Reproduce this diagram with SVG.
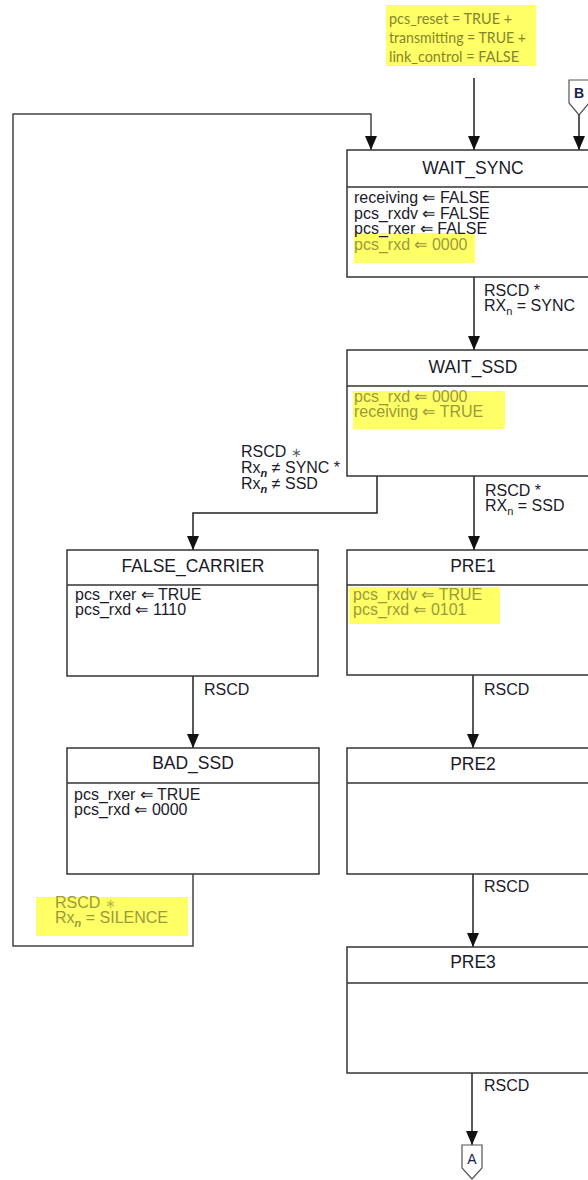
<svg xmlns="http://www.w3.org/2000/svg" width="588" height="1180" viewBox="0 0 588 1180">
<style>
.box{fill:#fff;stroke:#333;stroke-width:1.5}
.div{stroke:#333;stroke-width:1.5}
.conn{fill:none;stroke:#222;stroke-width:1.5}
.loop{fill:none;stroke:#444;stroke-width:1.5}
.title{font-family:"Liberation Sans",Arial,sans-serif;font-size:17.5px;fill:#1a1a2a;text-anchor:middle}
.body{font-family:"Liberation Sans",Arial,sans-serif;font-size:16px;fill:#1a1a2a}
.hl{font-family:"Liberation Sans",Arial,sans-serif;font-size:16px;fill:#9a9a3c}
.lbl{font-family:"Liberation Sans",Arial,sans-serif;font-size:16px;fill:#1a1a2a}
.sub{font-size:11px}
.ast{font-size:13px;opacity:0.7}
.top{font-family:Lato,"Open Sans",sans-serif;font-size:15px;fill:#85852e}
.yel{fill:#ffff66}
.pent{fill:#fff;stroke:#555;stroke-width:1.2}
.cl{font-family:"Liberation Sans",Arial,sans-serif;font-size:14px;fill:#1a2050;text-anchor:middle}
</style>
<defs>
<marker id="ah" markerUnits="userSpaceOnUse" markerWidth="14" markerHeight="12" refX="14" refY="6" orient="auto">
<path d="M0,0 L14,6 L0,12 z" fill="#111"/>
</marker>
</defs>

<!-- top condition label -->
<g id="init-cond">
<rect class="yel" x="386" y="5" width="150" height="61"/>
<text class="top" x="389" y="24" textLength="123" lengthAdjust="spacingAndGlyphs">pcs_reset = TRUE +</text>
<text class="top" x="389" y="43" textLength="137" lengthAdjust="spacingAndGlyphs">transmitting = TRUE +</text>
<text class="top" x="389" y="62" textLength="130" lengthAdjust="spacingAndGlyphs">link_control = FALSE</text>
</g>

<!-- off-page connector B -->
<g id="conn-B">
<path class="pent" d="M569,80 L589,80 L589,103 L579,115 L569,103 z"/>
<text class="cl" x="579" y="98" font-weight="bold">B</text>
</g>

<!-- connectors -->
<g id="connectors">
<path class="conn" d="M474,78 L474,150" marker-end="url(#ah)"/>
<path class="conn" d="M579,115 L579,150" marker-end="url(#ah)"/>
<path class="loop" d="M193,874 L193,946 L13,946 L13,114 L371,114 L371,150" marker-end="url(#ah)"/>
<path class="conn" d="M474,277 L474,350" marker-end="url(#ah)"/>
<path class="conn" d="M377,476 L377,513 L193,513 L193,550" marker-end="url(#ah)"/>
<path class="conn" d="M474,476 L474,550" marker-end="url(#ah)"/>
<path class="conn" d="M193,676 L193,748" marker-end="url(#ah)"/>
<path class="conn" d="M473,675 L473,748" marker-end="url(#ah)"/>
<path class="conn" d="M473,874 L473,947" marker-end="url(#ah)"/>
<path class="conn" d="M472,1073 L472,1145" marker-end="url(#ah)"/>
</g>

<!-- transition labels -->
<g id="labels">
<text class="lbl" x="484" y="296">RSCD *</text>
<text class="lbl" x="484" y="311">RX<tspan class="sub" dy="4">n</tspan><tspan dy="-4"> = SYNC</tspan></text>

<text class="lbl" x="241" y="457">RSCD <tspan class="ast">∗</tspan></text>
<text class="lbl" x="241" y="473">Rx<tspan class="sub" dy="4" font-style="italic" font-weight="bold">n</tspan><tspan dy="-4"> ≠ SYNC *</tspan></text>
<text class="lbl" x="241" y="489">Rx<tspan class="sub" dy="4" font-style="italic" font-weight="bold">n</tspan><tspan dy="-4"> ≠ SSD</tspan></text>

<text class="lbl" x="485" y="496">RSCD *</text>
<text class="lbl" x="485" y="511">RX<tspan class="sub" dy="4">n</tspan><tspan dy="-4"> = SSD</tspan></text>

<text class="lbl" x="204" y="695">RSCD</text>
<text class="lbl" x="484" y="695">RSCD</text>
<text class="lbl" x="484" y="892">RSCD</text>
<text class="lbl" x="484" y="1091">RSCD</text>

<rect class="yel" x="36" y="897" width="152" height="39"/>
<text class="hl" x="55" y="908">RSCD <tspan class="ast">∗</tspan></text>
<text class="hl" x="55" y="923">Rx<tspan class="sub" dy="4" font-style="italic" font-weight="bold">n</tspan><tspan dy="-4"> = SILENCE</tspan></text>
</g>

<!-- states -->
<g id="WAIT_SYNC">
<rect class="box" x="347" y="150" width="260" height="127"/>
<line class="div" x1="347" y1="187" x2="607" y2="187"/>
<text class="title" x="473" y="174">WAIT_SYNC</text>
<rect class="yel" x="354" y="233" width="121" height="30"/>
<text class="body" x="354" y="203">receiving ⇐ FALSE</text>
<text class="body" x="354" y="218.5">pcs_rxdv ⇐ FALSE</text>
<text class="body" x="354" y="234">pcs_rxer ⇐ FALSE</text>
<text class="hl" x="354" y="249.5">pcs_rxd ⇐ 0000</text>
</g>

<g id="WAIT_SSD">
<rect class="box" x="347" y="350" width="260" height="126"/>
<line class="div" x1="347" y1="386" x2="607" y2="386"/>
<text class="title" x="473" y="373">WAIT_SSD</text>
<rect class="yel" x="353" y="391" width="152" height="38"/>
<text class="hl" x="354" y="402">pcs_rxd ⇐ 0000</text>
<text class="hl" x="354" y="417">receiving ⇐ TRUE</text>
</g>

<g id="FALSE_CARRIER">
<rect class="box" x="67" y="550" width="251" height="126"/>
<line class="div" x1="67" y1="585" x2="318" y2="585"/>
<text class="title" x="193" y="572">FALSE_CARRIER</text>
<text class="body" x="75" y="600">pcs_rxer ⇐ TRUE</text>
<text class="body" x="75" y="615">pcs_rxd ⇐ 1110</text>
</g>

<g id="PRE1">
<rect class="box" x="347" y="550" width="260" height="125"/>
<line class="div" x1="347" y1="585" x2="607" y2="585"/>
<text class="title" x="473" y="572">PRE1</text>
<rect class="yel" x="349" y="587" width="151" height="37"/>
<text class="hl" x="353" y="600">pcs_rxdv ⇐ TRUE</text>
<text class="hl" x="353" y="615">pcs_rxd ⇐ 0101</text>
</g>

<g id="BAD_SSD">
<rect class="box" x="67" y="748" width="252" height="126"/>
<line class="div" x1="67" y1="783" x2="319" y2="783"/>
<text class="title" x="193" y="769">BAD_SSD</text>
<text class="body" x="74" y="800">pcs_rxer ⇐ TRUE</text>
<text class="body" x="74" y="815">pcs_rxd ⇐ 0000</text>
</g>

<g id="PRE2">
<rect class="box" x="347" y="748" width="260" height="126"/>
<line class="div" x1="347" y1="783" x2="607" y2="783"/>
<text class="title" x="473" y="770">PRE2</text>
</g>

<g id="PRE3">
<rect class="box" x="347" y="947" width="260" height="126"/>
<line class="div" x1="347" y1="983" x2="607" y2="983"/>
<text class="title" x="473" y="968">PRE3</text>
</g>

<!-- off-page connector A -->
<g id="conn-A">
<path class="pent" d="M462,1145 L482,1145 L482,1168 L472,1179 L462,1168 z"/>
<text class="cl" x="472" y="1164">A</text>
</g>
</svg>
